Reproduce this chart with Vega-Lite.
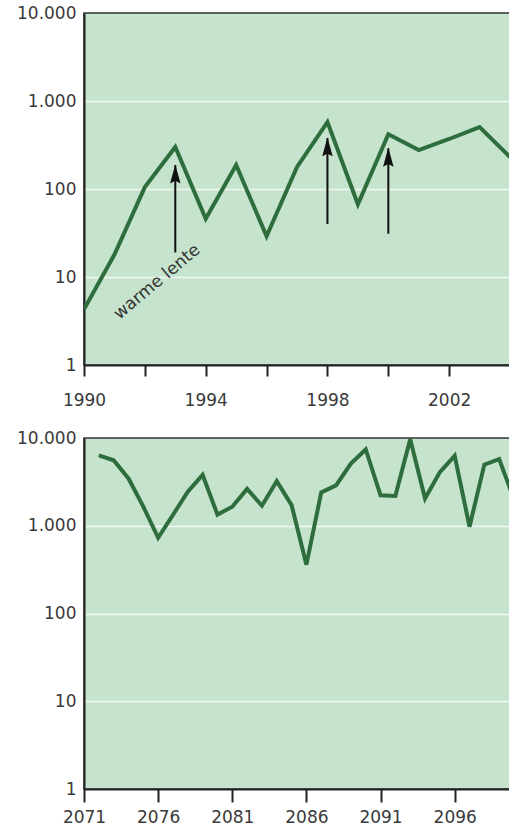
{
  "$schema": "https://vega.github.io/schema/vega-lite/v6.json",
  "padding": {"left": 5, "top": 3, "right": 0, "bottom": 0},
  "background": "white",
  "spacing": 19,
  "config": {
    "font": "DejaVu Sans",
    "view": {"fill": "#c6e3cd", "stroke": "#333333", "strokeWidth": 1.5},
    "axis": {
      "labelFont": "DejaVu Sans",
      "labelFontSize": 17,
      "labelColor": "#3a3a3a",
      "domainColor": "#222222",
      "domainWidth": 2,
      "tickColor": "#222222",
      "tickWidth": 2,
      "title": null,
      "labelOverlap": false,
      "labelFlush": false
    }
  },
  "datasets": {
    "top": [
      {"year": 1990, "value": 4.3},
      {"year": 1991, "value": 18},
      {"year": 1992, "value": 105},
      {"year": 1993, "value": 300},
      {"year": 1994, "value": 46},
      {"year": 1995, "value": 187},
      {"year": 1996, "value": 29},
      {"year": 1997, "value": 178},
      {"year": 1998, "value": 575},
      {"year": 1999, "value": 67},
      {"year": 2000, "value": 420},
      {"year": 2001, "value": 277},
      {"year": 2002, "value": 370},
      {"year": 2003, "value": 505},
      {"year": 2004, "value": 230}
    ],
    "bottom": [
      {"year": 2072, "value": 6330},
      {"year": 2073, "value": 5580},
      {"year": 2074, "value": 3460},
      {"year": 2075, "value": 1650},
      {"year": 2076, "value": 730},
      {"year": 2077, "value": 1330},
      {"year": 2078, "value": 2450},
      {"year": 2079, "value": 3800},
      {"year": 2080, "value": 1340},
      {"year": 2081, "value": 1650},
      {"year": 2082, "value": 2630},
      {"year": 2083, "value": 1690},
      {"year": 2084, "value": 3220},
      {"year": 2085, "value": 1720},
      {"year": 2086, "value": 360},
      {"year": 2087, "value": 2400},
      {"year": 2088, "value": 2890},
      {"year": 2089, "value": 5100},
      {"year": 2090, "value": 7400},
      {"year": 2091, "value": 2220},
      {"year": 2092, "value": 2190},
      {"year": 2093, "value": 9700},
      {"year": 2094, "value": 2040},
      {"year": 2095, "value": 4090},
      {"year": 2096, "value": 6270},
      {"year": 2097, "value": 975},
      {"year": 2098, "value": 4970},
      {"year": 2099, "value": 5740},
      {"year": 2100, "value": 2000}
    ],
    "arrows": [
      {"year": 1993, "from": 19, "to": 187},
      {"year": 1998, "from": 40, "to": 380},
      {"year": 2000, "from": 31, "to": 290}
    ],
    "notes": [
      {"year": 1992.4, "value": 8.8, "label": "warme lente"}
    ]
  },
  "vconcat": [
    {
      "width": 430,
      "height": 352,
      "layer": [
        {
          "data": {"name": "top"},
          "mark": {"type": "line", "color": "#2d6e3c", "strokeWidth": 4, "strokeJoin": "miter", "clip": true},
          "encoding": {
            "x": {
              "field": "year", "type": "quantitative",
              "scale": {"domain": [1990, 2004.13], "nice": false, "zero": false},
              "axis": {
                "values": [1990, 1991, 1992, 1993, 1994, 1995, 1996, 1997, 1998, 1999, 2000, 2001, 2002, 2003, 2004],
                "labelExpr": "(datum.value - 1990) % 4 == 0 ? format(datum.value, 'd') : ''",
                "tickSize": 11,
                "labelPadding": 16,
                "grid": false
              }
            },
            "y": {
              "field": "value", "type": "quantitative",
              "scale": {"type": "log", "domain": [1, 10000], "nice": false},
              "axis": {
                "values": [1, 10, 100, 1000, 10000],
                "labelExpr": "replace(format(datum.value, ',d'), ',', '.')",
                "ticks": false,
                "labelPadding": 8,
                "minExtent": 78,
                "grid": true,
                "gridColor": "#f4f8f4",
                "gridWidth": 1.5,
                "gridOpacity": {"condition": {"test": "datum.value <= 1 || datum.value >= 10000", "value": 0}, "value": 1}
              }
            }
          }
        },
        {
          "data": {"name": "arrows"},
          "mark": {"type": "rule", "color": "#111111", "strokeWidth": 2},
          "encoding": {
            "x": {"field": "year", "type": "quantitative"},
            "y": {"field": "from", "type": "quantitative"},
            "y2": {"field": "to"}
          }
        },
        {
          "data": {"name": "arrows"},
          "mark": {"type": "point", "shape": "M0,-1 L0.5,0.8 L0,0.55 L-0.5,0.8 Z", "filled": true, "color": "#111111", "size": 440, "yOffset": 10, "opacity": 1},
          "encoding": {
            "x": {"field": "year", "type": "quantitative"},
            "y": {"field": "to", "type": "quantitative"}
          }
        },
        {
          "data": {"name": "notes"},
          "mark": {"type": "text", "angle": -40, "fontSize": 17, "color": "#333333", "align": "center", "baseline": "middle", "font": "DejaVu Sans"},
          "encoding": {
            "x": {"field": "year", "type": "quantitative"},
            "y": {"field": "value", "type": "quantitative"},
            "text": {"field": "label"}
          }
        }
      ]
    },
    {
      "width": 430,
      "height": 351,
      "data": {"name": "bottom"},
      "mark": {"type": "line", "color": "#2d6e3c", "strokeWidth": 4, "strokeJoin": "miter", "clip": true},
      "encoding": {
        "x": {
          "field": "year", "type": "quantitative",
          "scale": {"domain": [2071, 2100], "nice": false, "zero": false},
          "axis": {
            "values": [2071, 2076, 2081, 2086, 2091, 2096],
            "format": "d",
            "tickSize": 13,
            "labelPadding": 7,
            "grid": false
          }
        },
        "y": {
          "field": "value", "type": "quantitative",
          "scale": {"type": "log", "domain": [1, 10000], "nice": false},
          "axis": {
            "values": [1, 10, 100, 1000, 10000],
            "labelExpr": "replace(format(datum.value, ',d'), ',', '.')",
            "ticks": false,
            "labelPadding": 8,
            "minExtent": 78,
            "grid": true,
            "gridColor": "#f4f8f4",
            "gridWidth": 1.5,
            "gridOpacity": {"condition": {"test": "datum.value <= 1 || datum.value >= 10000", "value": 0}, "value": 1}
          }
        }
      }
    }
  ]
}
